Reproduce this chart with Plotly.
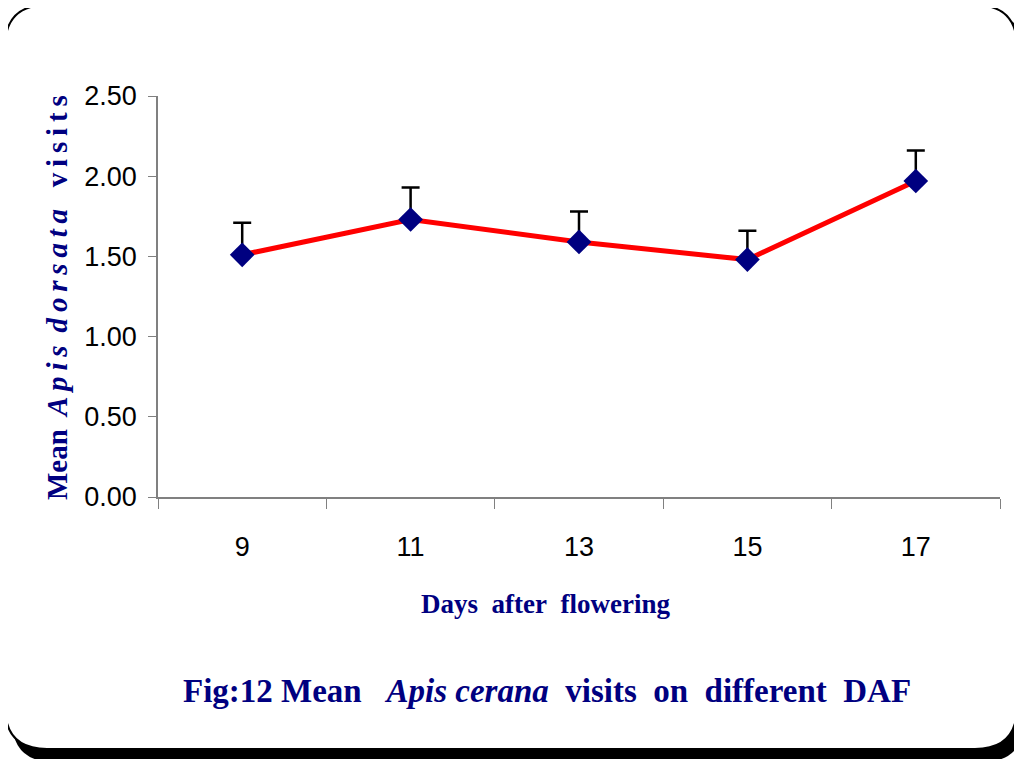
import plotly.graph_objects as go

days = ["9", "11", "13", "15", "17"]
mean_visits = [1.51, 1.73, 1.59, 1.48, 1.97]
err_plus = [0.20, 0.20, 0.19, 0.18, 0.19]
y_ticks = [0, 0.5, 1.0, 1.5, 2.0, 2.5]
y_ticktext = ["0.00", "0.50", "1.00", "1.50", "2.00", "2.50"]

OFF = 8  # page body margin
W, H = 1022 - OFF, 759 - OFF
L, R, T, B = 158 - OFF, 1000 - OFF, 96 - OFF, 497 - OFF
NAVY = "#000080"

def px(x):
    return (x - OFF - L) / (R - L)

def py(y):
    return (B - (y - OFF)) / (B - T)

fig = go.Figure()
fig.add_trace(go.Scatter(
    x=days, y=mean_visits, mode="lines+markers",
    line=dict(color="#ff0000", width=5),
    marker=dict(symbol="diamond", size=19, color=NAVY),
    error_y=dict(type="data", symmetric=False, array=err_plus,
                 arrayminus=[0] * len(err_plus), color="black",
                 thickness=2.5, width=9),
    showlegend=False,
))

def rrect(x0, y0, x1, y1, r):
    rx = r / (R - L)
    ry = r / (B - T)
    a0, b0, a1, b1 = px(x0), py(y0), px(x1), py(y1)
    return (f"M {a0+rx},{b0} L {a1-rx},{b0} Q {a1},{b0} {a1},{b0-ry} "
            f"L {a1},{b1+ry} Q {a1},{b1} {a1-rx},{b1} "
            f"L {a0+rx},{b1} Q {a0},{b1} {a0},{b1+ry} "
            f"L {a0},{b0-ry} Q {a0},{b0} {a0+rx},{b0} Z")

shapes = [
    dict(type="path", xref="paper", yref="paper", path=rrect(12, 12, 1024, 762, 42),
         fillcolor="black", line=dict(width=0), layer="below"),
    dict(type="path", xref="paper", yref="paper", path=rrect(5, 5, 1017, 749, 42),
         fillcolor="white", line=dict(color="black", width=2), layer="below"),
]

sp = "&nbsp;"
ts = "&#8201;"
def spaced(word):
    return ts.join(list(word))

ytitle = ("<b>Mean" + sp + ts + "<i>" + spaced("Apis") + sp + ts + spaced("dorsata")
          + "</i>" + sp * 3 + spaced("visits") + "</b>")

annotations = [
    dict(xref="paper", yref="paper", x=px(57), y=py(298), textangle=-90,
         showarrow=False, xanchor="center", yanchor="middle",
         text=ytitle,
         font=dict(family="Liberation Serif", size=29, color=NAVY)),
    dict(xref="paper", yref="paper", x=px(545), y=py(604), showarrow=False,
         xanchor="center", yanchor="middle",
         text="<b>Days&nbsp; after&nbsp; flowering</b>",
         font=dict(family="Liberation Serif", size=27, color=NAVY)),
    dict(xref="paper", yref="paper", x=px(547), y=py(691), showarrow=False,
         xanchor="center", yanchor="middle",
         text=("<b>Fig:12 Mean&nbsp;&nbsp; <i>Apis cerana</i>&nbsp; visits&nbsp; on&nbsp; "
               "different&nbsp; DAF</b>"),
         font=dict(family="Liberation Serif", size=33, color=NAVY)),
]

fig.update_layout(
    width=W, height=H,
    margin=dict(l=L, r=W - R, t=T, b=H - B, pad=0),
    paper_bgcolor="white", plot_bgcolor="rgba(0,0,0,0)",
    shapes=shapes, annotations=annotations,
    xaxis=dict(type="category", tickson="boundaries", range=[-0.5, 4.5],
               showgrid=False,
               showline=True, linecolor="#808080", linewidth=1.5,
               ticks="outside", ticklen=10, tickcolor="#808080",
               tickfont=dict(family="Liberation Sans Narrow, Arial Narrow, sans-serif",
                             size=27, color="black"),
               ticklabelstandoff=25, zeroline=False),
    yaxis=dict(range=[0, 2.5], tickvals=y_ticks, ticktext=y_ticktext,
               showgrid=False, showline=True, linecolor="#808080", linewidth=1.5,
               ticks="outside", ticklen=8, tickcolor="#808080",
               tickfont=dict(family="Liberation Sans Narrow, Arial Narrow, sans-serif",
                             size=27, color="black"),
               ticklabelstandoff=6, zeroline=False),
)

fig.write_html("out.html")
